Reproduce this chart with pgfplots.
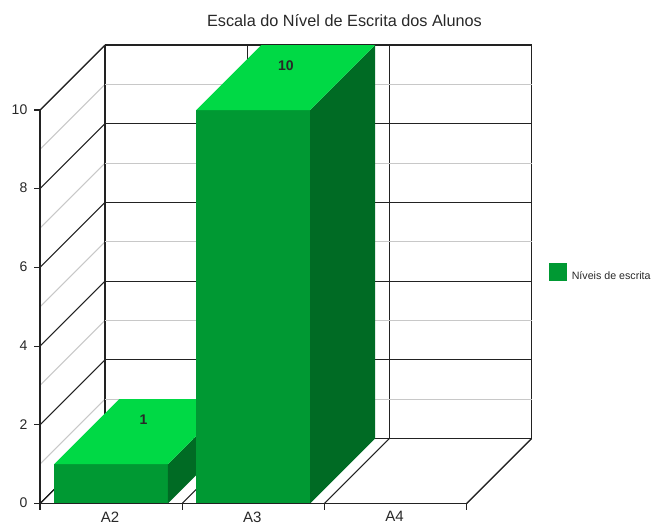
\documentclass[border=0pt]{standalone}
\usepackage{pgfplots}
\pgfplotsset{compat=1.18}
\usepackage{fontspec}
\setmainfont{Liberation Sans}
\definecolor{barfront}{RGB}{0,153,51}
\definecolor{bartop}{RGB}{0,217,69}
\definecolor{barside}{RGB}{0,107,36}
\definecolor{inkline}{RGB}{34,34,34}
\definecolor{inktext}{RGB}{40,40,40}
\definecolor{softgrid}{RGB}{200,200,200}
\begin{document}
\begin{tikzpicture}[x=1pt,y=1pt]
\useasboundingbox (0,0) rectangle (491.25pt,391.5pt);
\begin{axis}[
  at={(30pt,13.875pt)}, anchor=origin,
  x={(106.65pt,0pt)}, y={(48.75pt,48.75pt)}, z={(0pt,29.51pt)},
  xmin=0, xmax=3, ymin=0, ymax=1, zmin=0, zmax=10,
  xtick={0,1,2,3}, x tick label as interval,
  xticklabels={A2,A3,A4},
  ytick=\empty,
  ztick={0,2,4,6,8,10},
  minor z tick num=1,
  xmajorgrids, zmajorgrids, zminorgrids,
  major grid style={inkline,line width=0.8pt},
  minor grid style={softgrid,line width=0.8pt},
  axis line style={inkline,line width=0.8pt},
  tick style={draw=none},
  major tick length=0pt,
  minor tick length=0pt,
  /pgf/number format/assume math mode=true,
  tick label style={font=\fontsize{10.5pt}{12pt}\selectfont,text=inktext},
  x tick label style={anchor=north,xshift=-0.75pt,yshift=-2.5pt,font=\fontsize{11.25pt}{12pt}\selectfont},
  z tick label style={anchor=east,xshift=-6pt,yshift=0.5pt},
  clip=false,
  title={Escala do Nível de Escrita dos Alunos},
  title style={font=\fontsize{12.2pt}{14pt}\selectfont,text=inktext,at={(0.5,1)},xshift=44pt,yshift=4pt},
  legend style={draw=none,fill=none,at={(1.034,0.525)},anchor=north west,
    font=\fontsize{8pt}{9pt}\selectfont,text=inktext,inner sep=0pt},
  legend cell align=left,
  nodes near coords style={anchor=center,yshift=9pt,font=\fontsize{10.5pt}{12pt}\selectfont\bfseries,text=inktext},
]
% A2 block, value 1
\addplot3[fill=barfront,draw=none,forget plot] coordinates {(0.1,0,0)(0.9,0,0)(0.9,0,1)(0.1,0,1)} -- cycle;
\addplot3[fill=barside,draw=none,forget plot] coordinates {(0.9,0,0)(0.9,1,0)(0.9,1,1)(0.9,0,1)} -- cycle;
\addplot3[fill=bartop,draw=none,forget plot] coordinates {(0.1,0,1)(0.9,0,1)(0.9,1,1)(0.1,1,1)} -- cycle;
% A3 block, value 10
\addplot3[fill=barfront,draw=none,forget plot] coordinates {(1.1,0,0)(1.9,0,0)(1.9,0,10)(1.1,0,10)} -- cycle;
\addplot3[fill=barside,draw=none,forget plot] coordinates {(1.9,0,0)(1.9,1,0)(1.9,1,10)(1.9,0,10)} -- cycle;
\addplot3[fill=bartop,draw=none,forget plot] coordinates {(1.1,0,10)(1.9,0,10)(1.9,1,10)(1.1,1,10)} -- cycle;
% value labels on the top faces
\addplot3[draw=none,mark=none,forget plot,point meta=z,nodes near coords] coordinates {(0.5,0.5,1)(1.5,0.5,10)};
% front axis lines and their outward ticks
\draw[inkline,line width=0.8pt] (axis cs:0,0,0) -- (axis cs:3,0,0);
\draw[inkline,line width=0.8pt] (axis cs:0,0,0) -- (axis cs:0,0,10);
\pgfplotsinvokeforeach{0,1,2,3}{\draw[inkline,line width=0.8pt] (axis cs:#1,0,0) -- ++(0pt,-4.5pt);}
\pgfplotsinvokeforeach{0,2,4,6,8,10}{\draw[inkline,line width=0.8pt] (axis cs:0,0,#1) -- ++(-4.5pt,0pt);}
% legend entry
\addlegendimage{legend image code/.code={\fill[barfront] (0pt,-2.6pt) rectangle (12.75pt,10.15pt);}}
\addlegendentry{\hspace{2.25pt}Níveis de escrita}
\end{axis}
\end{tikzpicture}
\end{document}
